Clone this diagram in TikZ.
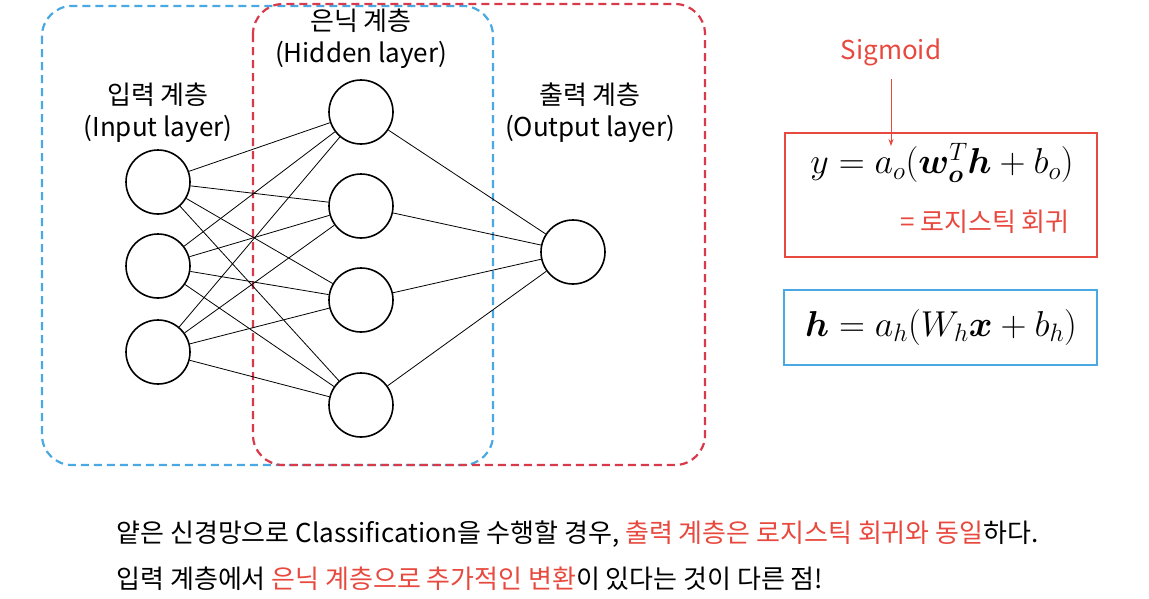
\RequirePackage{fix-cm}
\documentclass[tikz,border=0pt]{standalone}
\usepackage[no-math]{fontspec}
\usepackage{amsmath,bm}
\setmainfont{Noto Sans CJK KR}
\usetikzlibrary{arrows.meta}
\definecolor{NetBlue}{HTML}{4AA8E2}
\definecolor{NetRed}{HTML}{D93A4B}
\definecolor{NoteRed}{HTML}{E8493E}
\begin{document}
\begin{tikzpicture}[x=1pt,y=-1pt, every node/.style={font=\fontsize{26}{32}\selectfont},
  neuron/.style={draw,circle,line width=1.6pt,minimum size=64pt,inner sep=0pt},
  layerbox/.style={dashed,line width=2.2pt,dash pattern=on 8pt off 5pt,rounded corners=30pt},
  eqbox/.style={line width=2.2pt},
  eqn/.style={font=\fontsize{36}{40}\selectfont},
  syn/.style={line width=0.8pt}]
  \useasboundingbox (0,0) rectangle (1149,598);
  % layer boxes
  \draw[layerbox,NetBlue] (42,6) rectangle (493,465);
  \draw[layerbox,NetRed] (253,4) rectangle (705,465);
  % neurons
  \node[neuron] (i1) at (158,182) {};
  \node[neuron] (i2) at (158,266) {};
  \node[neuron] (i3) at (158,352) {};
  \node[neuron] (h1) at (361,112) {};
  \node[neuron] (h2) at (361,206) {};
  \node[neuron] (h3) at (361,300) {};
  \node[neuron] (h4) at (361,405) {};
  \node[neuron] (o1) at (573,252) {};
  \foreach \i in {1,2,3} \foreach \j in {1,2,3,4} \draw[syn] (i\i)--(h\j);
  \foreach \j in {1,2,3,4} \draw[syn] (h\j)--(o1);
  % layer labels
  \node[align=center] (lin) at (158,113) {입력 계층\\(Input layer)};
  \node[align=center] (lhid) at (361,39) {은닉 계층\\(Hidden layer)};
  \node[align=center] (lout) at (590,113) {출력 계층\\(Output layer)};
  % equations
  \draw[eqbox,NoteRed] (785,133) rectangle (1097,257);
  \node[eqn] (eqo) at (942,163) {$y = a_o(\bm{w}_{\bm{o}}^T\bm{h} + b_o)$};
  \node[text=NoteRed] (logit) at (985,222) {= 로지스틱 회귀};
  \node[text=NoteRed] (sig) at (891,52) {Sigmoid};
  \coordinate (sigtip) at (891,146);
  \draw[NoteRed,line width=0.8pt,-{Stealth[length=7pt,width=5pt]}] ([yshift=-10pt]sig.south) -- (sigtip);
  \draw[eqbox,NetBlue] (784,290) rectangle (1097,365);
  \node[eqn] (eqh) at (941,327) {$\bm{h} = a_h(W_h\bm{x} + b_h)$};
  % note
  \node[anchor=west] (note1) at (113,534) {얕은 신경망으로 Classification을 수행할 경우, \textcolor{NoteRed}{출력 계층은 로지스틱 회귀와 동일}하다.};
  \node[anchor=west] (note2) at (113,579) {입력 계층에서 \textcolor{NoteRed}{은닉 계층으로 추가적인 변환}이 있다는 것이 다른 점!};
\end{tikzpicture}
\end{document}
